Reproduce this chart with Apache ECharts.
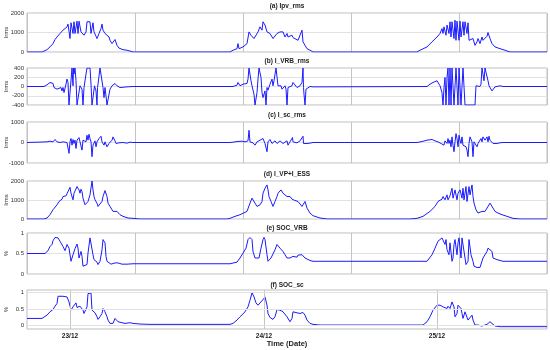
<!DOCTYPE html>
<html>
<head>
<meta charset="utf-8">
<script src="https://cdn.jsdelivr.net/npm/echarts@6/dist/echarts.min.js"></script>
<style>html,body{margin:0;padding:0;background:#fff}#c{width:550px;height:350px}</style>
</head>
<body>
<div id="c"></div>
<script>
// ---- data (x = sample index along the time axis, y = value) ----
const panelTitles = ['(a) Ipv_rms', '(b) I_VRB_rms', '(c) I_sc_rms', '(d) I_VP+I_ESS', '(e) SOC_VRB', '(f) SOC_sc'];
const yNames = ['Irms', 'Irms', 'Irms', 'Irms', '%', '%'];
const dateTickValues = [43, 237, 410];
const dateLabels = ['23/12', '24/12', '25/12'];
const xAxisName = 'Time (Date)';

const ipvRms = [[0,0],[15,0],[20,120],[23,260],[26,430],[28,640],[30,770],[33,950],[36,1120],[40,1290],[41,1430],[42,1460],[43,690],[44,1500],[46,950],[47,1550],[48,950],[50,1580],[51,950],[52,1580],[54,1030],[56,1030],[57,860],[59,1030],[60,1550],[62,1460],[63,1550],[64,950],[66,1500],[67,1030],[69,810],[70,690],[72,950],[74,1200],[75,1430],[76,1120],[78,950],[79,860],[80,1030],[82,770],[83,600],[85,430],[86,460],[88,640],[90,340],[92,200],[96,120],[100,90],[101,140],[103,50],[106,0],[203,0],[206,90],[210,170],[211,430],[212,170],[216,260],[220,430],[222,1030],[224,860],[226,770],[227,690],[229,770],[231,1030],[233,1290],[235,1120],[236,1550],[238,1380],[240,1030],[241,1120],[243,950],[246,690],[250,950],[253,1030],[255,950],[256,1030],[258,770],[260,950],[261,770],[263,690],[265,860],[266,740],[268,640],[271,600],[273,520],[275,1120],[276,520],[278,340],[280,170],[283,90],[286,0],[390,0],[393,90],[400,260],[405,520],[410,770],[413,950],[415,1200],[416,950],[417,1290],[419,860],[420,1380],[422,950],[423,1550],[424,770],[425,1550],[427,690],[428,1630],[429,600],[430,1580],[432,600],[433,1580],[434,770],[436,1550],[437,860],[438,1550],[440,950],[441,1500],[442,600],[444,520],[446,690],[448,340],[450,520],[451,690],[453,430],[455,770],[456,600],[458,690],[460,810],[461,1000],[463,690],[465,430],[468,260],[473,170],[478,90],[483,0],[520,0]];

const iVrbRms = [[0,0],[17,0],[20,36],[23,87],[25,109],[26,65],[27,-22],[29,15],[30,-58],[31,-22],[32,-80],[34,-22],[35,-95],[36,-22],[37,-131],[39,51],[40,160],[41,87],[42,-400],[44,-400],[45,400],[46,15],[46.5,400],[47,269],[48,400],[49,124],[50,-400],[52,-400],[53,15],[55,-58],[56,-400],[57,-22],[59,269],[60,400],[63,400],[64,51],[65,-400],[67,-400],[67.5,15],[69,-95],[70,-400],[70.5,-22],[71,51],[73,400],[75,400],[76,-22],[77,-240],[78,-22],[80,-400],[82,-400],[83,-58],[85,15],[86,36],[88,65],[90,15],[93,-22],[100,-8],[106,0],[206,0],[210,29],[211,87],[213,15],[216,51],[220,65],[221,160],[222,400],[224,124],[225,15],[227,-167],[228,-400],[230,-131],[231,160],[232,400],[234,196],[235,-131],[236,-240],[238,-95],[239,-400],[240,-22],[241,-80],[243,51],[245,160],[246,15],[247,124],[249,400],[250,400],[251,15],[252,-22],[254,15],[255,-58],[256,-22],[258,15],[259,-58],[260,-400],[261,-22],[263,-58],[265,15],[266,87],[268,51],[270,-22],[271,-58],[273,15],[275,87],[276,400],[276.5,-22],[277,-167],[278,-400],[279,-58],[281,-22],[283,0],[286,-8],[400,0],[403,51],[406,87],[410,124],[411,87],[413,15],[415,-131],[416,-400],[417,-22],[418,196],[419,-400],[420,196],[421,400],[422,-400],[423,400],[424,-400],[425,400],[426,400],[427,-400],[428,-400],[429,400],[430,400],[431,-400],[432,400],[433,400],[434,-400],[435,-400],[436,400],[437,400],[438,-400],[448,-400],[449,15],[451,15],[453,0],[454,51],[455,400],[456,400],[457,124],[458,400],[460,400],[461,124],[462,15],[463,-22],[465,-95],[466,-58],[468,-8],[473,15],[476,0],[520,0]];

const iScRms = [[0,0],[20,32],[23,64],[25,113],[26,32],[28,145],[29,225],[30,32],[31,-48],[33,0],[36,32],[40,0],[41,-48],[42,-531],[43,32],[44,193],[45,-129],[46,145],[47,-48],[48,113],[49,-290],[50,113],[52,241],[53,32],[54,80],[55,-370],[56,113],[58,193],[59,32],[60,354],[61,113],[62,402],[63,193],[64,32],[65,-692],[66,-129],[68,80],[69,-209],[70,32],[71,-48],[72,193],[73,113],[74,306],[75,32],[76,113],[77,-129],[78,32],[80,-209],[81,-129],[82,-48],[84,32],[85,113],[86,274],[88,80],[89,-48],[90,-80],[92,-16],[93,-48],[96,0],[100,-32],[103,16],[106,0],[203,0],[206,16],[210,48],[211,113],[212,32],[215,64],[218,32],[221,80],[222,596],[223,32],[225,-48],[226,-16],[228,-129],[230,32],[231,-48],[233,113],[235,32],[236,193],[238,-48],[240,-451],[241,32],[243,145],[245,-48],[246,32],[248,80],[250,-48],[253,80],[255,32],[256,-48],[258,32],[260,80],[261,-129],[262,-48],[263,32],[265,80],[265.5,241],[266,32],[268,-48],[270,-16],[271,32],[273,80],[275,-16],[276,306],[276.5,-48],[278,-16],[280,-48],[281,0],[283,-32],[286,0],[390,0],[395,48],[400,113],[405,145],[408,80],[411,32],[414,-48],[416,32],[417,-129],[418,80],[420,-48],[421,193],[422,-48],[423,113],[424,-209],[425,274],[426,-129],[427,-451],[428,32],[429,435],[430,193],[431,-209],[432,354],[433,113],[434,-48],[435,274],[436,-129],[438,-48],[439,-209],[440,-370],[441,-692],[442,-48],[443,274],[444,354],[445,32],[446,-692],[447,32],[448,113],[450,-209],[451,-48],[452,32],[454,193],[455,32],[456,274],[458,113],[460,274],[461,32],[462,306],[463,113],[464,32],[466,-48],[467,-16],[470,-48],[473,-16],[476,0],[520,0]];

const iVpEss = [[0,0],[17,0],[20,52],[23,226],[26,487],[30,748],[32,922],[35,1044],[36,1183],[39,1218],[41,1270],[43,1670],[44,1357],[46,1009],[47,1357],[48,1392],[50,1705],[51,1792],[52,1531],[53,1357],[54,1566],[55,1444],[56,1096],[58,748],[60,748],[61,922],[63,1270],[65,2000],[66,1531],[67,1183],[68,1009],[70,835],[71,661],[73,626],[75,922],[76,1183],[78,1496],[80,1183],[81,835],[83,661],[85,574],[86,400],[88,348],[90,400],[91,313],[93,226],[96,139],[101,52],[106,35],[113,0],[200,0],[203,35],[208,139],[213,226],[220,400],[223,835],[225,1096],[226,1044],[228,835],[230,661],[231,661],[233,748],[235,922],[236,1357],[238,1618],[240,1792],[241,1531],[242,1183],[244,922],[246,661],[248,922],[250,1183],[251,1357],[253,1444],[254,1531],[256,1357],[258,1357],[260,1183],[261,1096],[263,1183],[265,1044],[266,1009],[268,974],[270,1009],[271,922],[273,835],[275,661],[276,748],[278,922],[279,835],[280,574],[283,313],[286,174],[293,52],[300,0],[383,0],[390,35],[396,139],[403,400],[408,661],[411,922],[415,1044],[416,1183],[418,1009],[420,1270],[421,1009],[423,1218],[425,1618],[426,1096],[428,1531],[430,1009],[431,1357],[433,1531],[435,1096],[436,1618],[437,1009],[439,1705],[440,922],[442,1705],[443,1270],[445,1792],[446,1183],[447,835],[449,487],[451,313],[453,313],[455,400],[456,487],[458,400],[460,574],[461,661],[463,835],[465,748],[466,574],[468,400],[471,313],[475,226],[480,139],[486,35],[493,0],[520,0]];

const socVrb = [[0,0.5],[18,0.5],[20,0.51],[21,0.57],[23,0.67],[25,0.72],[26,0.81],[28,0.89],[30,0.9],[31,0.88],[33,0.8],[35,0.76],[36,0.67],[38,0.57],[39,0.59],[40,0.72],[41,0.73],[42,0.63],[44,0.31],[45,0.39],[46,0.47],[48,0.62],[50,0.73],[51,0.63],[52,0.39],[53,0.47],[54,0.55],[55,0.43],[56,0.19],[58,0.16],[60,0.23],[61,0.51],[63,0.88],[64,0.84],[66,0.47],[67,0.35],[68,0.33],[70,0.29],[71,0.23],[73,0.31],[75,0.59],[76,0.84],[78,0.76],[79,0.43],[80,0.31],[82,0.27],[84,0.24],[86,0.23],[88,0.27],[90,0.29],[91,0.27],[95,0.24],[100,0.24],[106,0.25],[203,0.25],[210,0.29],[213,0.39],[216,0.51],[219,0.63],[221,0.84],[223,0.89],[225,0.84],[226,0.55],[228,0.39],[230,0.35],[232,0.39],[234,0.63],[236,0.84],[237,0.89],[238,0.84],[240,0.47],[241,0.31],[242,0.29],[244,0.39],[246,0.43],[248,0.59],[250,0.72],[251,0.73],[253,0.63],[255,0.59],[256,0.55],[258,0.47],[260,0.39],[261,0.35],[263,0.39],[265,0.43],[266,0.43],[268,0.39],[270,0.41],[271,0.46],[273,0.43],[275,0.47],[276,0.51],[278,0.39],[280,0.35],[283,0.33],[286,0.31],[400,0.31],[401,0.35],[405,0.47],[408,0.63],[411,0.8],[415,0.88],[416,0.84],[418,0.72],[419,0.84],[420,0.59],[422,0.47],[423,0.76],[425,0.31],[426,0.39],[427,0.72],[428,0.84],[430,0.47],[431,0.76],[432,0.88],[434,0.39],[435,0.88],[436,0.86],[438,0.39],[439,0.23],[441,0.31],[442,0.84],[443,0.88],[444,0.47],[446,0.31],[447,0.19],[450,0.16],[453,0.16],[455,0.19],[456,0.39],[458,0.43],[460,0.55],[461,0.63],[463,0.67],[465,0.55],[466,0.39],[470,0.35],[473,0.33],[476,0.31],[520,0.31]];

const socSc = [[0,0.22],[15,0.22],[16,0.24],[20,0.32],[23,0.42],[26,0.49],[28,0.59],[30,0.67],[31,0.89],[33,0.9],[36,0.89],[40,0.87],[41,0.89],[42,0.72],[44,0.47],[46,0.57],[47,0.62],[49,0.69],[50,0.55],[52,0.49],[53,0.59],[54,0.62],[56,0.47],[57,0.37],[58,0.42],[60,0.57],[61,0.97],[62,1.0],[64,0.99],[65,0.47],[66,0.42],[68,0.39],[70,0.27],[71,0.19],[73,0.27],[75,0.37],[76,0.52],[78,0.42],[80,0.27],[81,0.17],[83,0.07],[85,0.04],[86,0.07],[88,0.22],[90,0.17],[91,0.12],[95,0.09],[98,0.07],[103,0.09],[106,0.07],[113,0.05],[123,0.04],[203,0.04],[206,0.07],[210,0.17],[213,0.27],[218,0.42],[221,0.57],[223,0.77],[225,1.0],[226,1.0],[227,0.87],[229,0.69],[231,0.62],[233,0.67],[236,0.79],[238,0.87],[240,0.62],[241,0.37],[243,0.25],[246,0.19],[248,0.27],[250,0.49],[251,0.52],[253,0.47],[255,0.49],[256,0.42],[258,0.37],[260,0.27],[261,0.22],[263,0.12],[265,0.22],[266,0.42],[268,0.37],[270,0.39],[271,0.34],[273,0.37],[275,0.34],[276,0.4],[278,0.32],[280,0.17],[283,0.07],[286,0.04],[293,0.02],[396,0.02],[400,0.12],[403,0.27],[406,0.47],[410,0.62],[411,0.65],[413,0.62],[415,0.67],[416,0.57],[418,0.62],[420,0.52],[421,0.59],[423,0.52],[425,0.72],[426,0.77],[427,0.57],[428,0.27],[430,0.37],[431,0.62],[432,0.67],[434,0.52],[435,0.37],[436,0.22],[438,0.42],[440,0.37],[441,0.17],[443,0.22],[445,0.32],[446,0.17],[448,0.02],[450,-0.01],[451,0.02],[453,0.07],[455,-0.01],[456,0],[460,0.04],[463,0.12],[465,0.07],[468,-0.01],[473,-0.03],[520,-0.03]];

const seriesData = [ipvRms, iVrbRms, iScRms, iVpEss, socVrb, socSc];
const yRanges = [[0,2000,1000],[-400,400,200],[-1000,1000,1000],[0,2000,1000],[0,1,0.5],[-0.1,1.08,null]];
const socScTicks = [0, 0.5, 1];

// ---- layout / style ----
const layout = [
  {top: 13, height: 39, titleY: 6},
  {top: 68, height: 37, titleY: 61.5},
  {top: 122, height: 41, titleY: 115.5},
  {top: 181, height: 38, titleY: 174.5},
  {top: 233, height: 41, titleY: 228},
  {top: 290, height: 39, titleY: 285}
];
const FONT = '"Liberation Sans", Arial, Helvetica, sans-serif';
const LEFT = 27, WIDTH = 520;
const X_MAX = 520;

const grid = [], xAxis = [], yAxis = [], series = [], graphic = [];
layout.forEach((L, i) => {
  grid.push({left: LEFT, width: WIDTH, top: L.top, height: L.height, show: true,
    containLabel: false, outerBoundsMode: 'none',
    borderColor: '#bdbdbd', borderWidth: 1, backgroundColor: 'transparent'});
  const isLast = i === layout.length - 1;
  const xa = {type: 'value', gridIndex: i, min: 0, max: X_MAX,
    axisLine: {show: false}, axisTick: {show: false}};
  if (!isLast) {
    xa.interval = 108;
    xa.axisLabel = {show: false};
    xa.splitLine = {show: true, lineStyle: {color: '#c4c4c4', width: 1}};
  } else {
    xa.axisLabel = {show: true, customValues: dateTickValues, fontSize: 6.5, fontWeight: 'bold',
      color: '#222', fontFamily: FONT, margin: 4,
      formatter: v => { const k = dateTickValues.indexOf(v); return k >= 0 ? dateLabels[k] : ''; }};
    xa.splitLine = {show: false};
    xa.name = xAxisName; xa.nameLocation = 'middle'; xa.nameGap = 11; xa.nameMoveOverlap = false;
    xa.nameTextStyle = {fontSize: 7.5, fontWeight: 'bold', color: '#222', fontFamily: FONT};
  }
  xAxis.push(xa);
  const r = yRanges[i];
  const ya = {type: 'value', gridIndex: i, min: r[0], max: r[1],
    name: yNames[i], nameLocation: 'middle', nameGap: 18, nameRotate: 90, nameMoveOverlap: false,
    nameTextStyle: {fontSize: 6, color: '#333', fontFamily: FONT},
    axisLine: {show: false}, axisTick: {show: false},
    axisLabel: {fontSize: 6, color: '#333', fontFamily: FONT, margin: 3, showMinLabel: true, showMaxLabel: true,
      formatter: v => String(v)},
    splitLine: {show: true, lineStyle: {color: '#e2e2e2', width: 1}}};
  if (r[2] !== null) ya.interval = r[2];
  else {
    ya.axisLabel.customValues = socScTicks;
    ya.axisTick = {show: false, customValues: socScTicks};
    ya.splitLine = {show: false};
  }
  yAxis.push(ya);
  const s = {type: 'line', xAxisIndex: i, yAxisIndex: i, data: seriesData[i], showSymbol: false,
    symbol: 'none', lineStyle: {color: '#1a1aff', width: 1}, silent: true, clip: true};
  if (isLast) {
    s.markLine = {silent: true, symbol: 'none', label: {show: false},
      lineStyle: {color: '#c4c4c4', width: 1, type: 'solid'},
      data: dateTickValues.map(v => ({xAxis: v})).concat(socScTicks.map(v => ({yAxis: v, lineStyle: {color: '#e2e2e2', width: 1, type: 'solid'}})))};
  }
  series.push(s);
  graphic.push({type: 'text', x: LEFT + WIDTH / 2, y: L.titleY, silent: true,
    style: {text: panelTitles[i], font: 'bold 6.5px ' + FONT, fill: '#222', align: 'center', verticalAlign: 'middle'}});
});

const chart = echarts.init(document.getElementById('c'), null, {renderer: 'canvas'});
chart.setOption({animation: false, backgroundColor: '#fff', grid, xAxis, yAxis, series, graphic});
</script>
</body>
</html>
